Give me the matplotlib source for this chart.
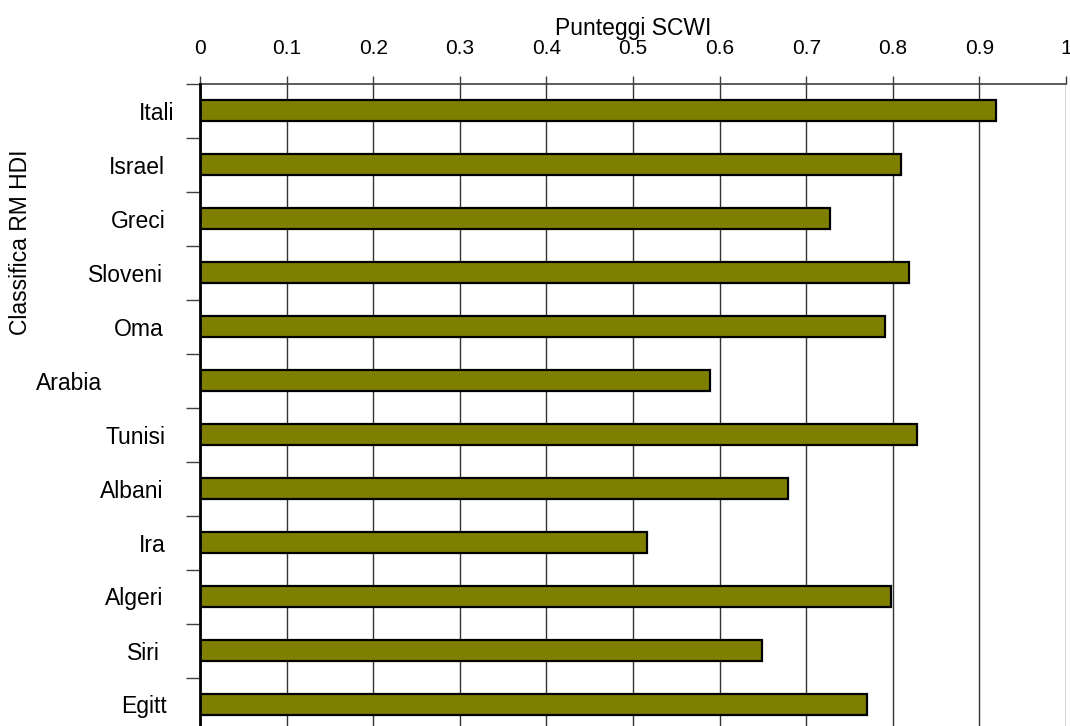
import matplotlib
matplotlib.use("Agg")
import matplotlib.pyplot as plt
import matplotlib.transforms as mtrans
import numpy as np

plt.rcParams['font.family'] = ['Liberation Sans', 'DejaVu Sans']

countries = ["Itali", "Israel", "Greci", "Sloveni", "Oma", "Arabia",
             "Tunisi", "Albani", "Ira", "Algeri", "Siri", "Egitt"]
scwi = [0.919, 0.810, 0.728, 0.819, 0.791, 0.589,
        0.828, 0.679, 0.516, 0.798, 0.649, 0.770]
xticks = [0, 0.1, 0.2, 0.3, 0.4, 0.5, 0.6, 0.7, 0.8, 0.9, 1]
xtick_labels = ["0", "0.1", "0.2", "0.3", "0.4", "0.5", "0.6", "0.7", "0.8", "0.9", "1"]

W, H = 1070, 726
fig = plt.figure(figsize=(W / 100, H / 100), dpi=100)
left, right, top, bottom = 200, 1066, 83.5, 731.5
ax = fig.add_axes([left / W, 1 - bottom / H, (right - left) / W, (bottom - top) / H])

n = len(countries)
pos = np.arange(n)
ax.barh(pos, scwi, height=0.4, color="#808000", edgecolor="black",
        linewidth=1.6, zorder=3)

ax.set_xlim(0, 1)
ax.set_ylim(n - 0.5, -0.5)

ax.xaxis.tick_top()
ax.xaxis.set_label_position("top")
ax.set_xticks(xticks)
ax.set_xticklabels(xtick_labels, fontsize=15)
ax.tick_params(axis="x", direction="out", length=6, width=1, color="#404040", pad=12.5)
ax.set_xlabel("Punteggi SCWI", fontsize=16.5, labelpad=3)
ax.grid(axis="x", color="#333333", linewidth=1.0, zorder=1)

# y: tick marks at category boundaries, labels at centres
ax.set_yticks(np.arange(-0.5, n, 1.0))
ax.set_yticklabels([])
ax.set_yticks(pos, minor=True)
ax.set_yticklabels(countries, minor=True, fontsize=16.5)
ax.tick_params(axis="y", which="major", direction="out", length=10, width=1, color="#404040")
ax.tick_params(axis="y", which="minor", length=0, pad=25)

# individual label offsets seen in the reference (pixels)
offsets = {"Itali": 9, "Arabia": -63, "Siri": -5, "Egitt": 2,
           "Oma": -2, "Sloveni": -2, "Albani": -2, "Algeri": -2}
for lbl in ax.get_yticklabels(minor=True):
    dx = offsets.get(lbl.get_text(), 0)
    if dx:
        lbl.set_transform(lbl.get_transform() + mtrans.ScaledTranslation(dx / 100, 0, fig.dpi_scale_trans))

for s in ["right", "bottom"]:
    ax.spines[s].set_visible(False)
ax.spines["top"].set_color("#404040")
ax.spines["top"].set_linewidth(1.2)
ax.spines["left"].set_color("black")
ax.spines["left"].set_linewidth(2)
ax.spines["left"].set_zorder(4)

fig.text(21 / W, 1 - 242 / H, "Classifica RM HDI", rotation=90,
         ha="center", va="center", fontsize=16.5)

fig.savefig("out.png", dpi=100)
